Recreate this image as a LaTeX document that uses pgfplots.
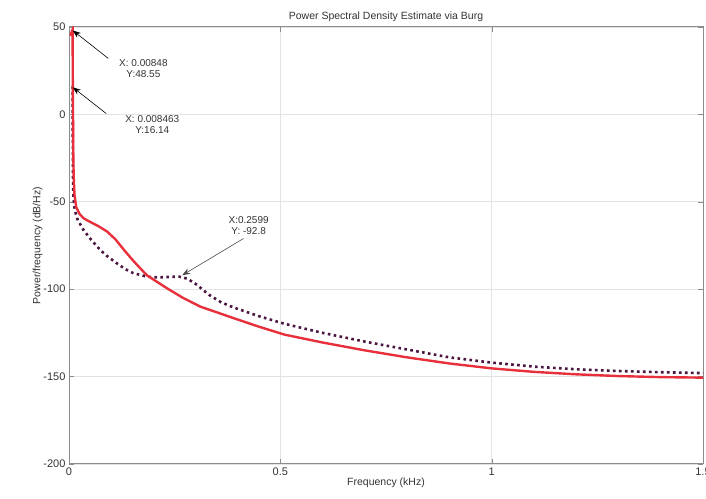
\documentclass[border=0pt]{standalone}
\usepackage{fontspec}
\setmainfont{Liberation Sans}
\usepackage{pgfplots}
\pgfplotsset{compat=1.18}
\usetikzlibrary{arrows.meta,calc}
\definecolor{burgRed}{HTML}{E8303C}
\definecolor{burgPurple}{HTML}{4A1540}
\definecolor{axGrey}{HTML}{8C8C8C}
\definecolor{gridGrey}{HTML}{E3E3E3}
\definecolor{txtGrey}{HTML}{333333}

\begin{document}
\begin{tikzpicture}
  \begin{axis}[
    name=ax,
    width=634pt, height=437pt,
    scale only axis,
    xmin=0, xmax=1.5,
    ymin=-200, ymax=50,
    xtick={0,0.5,1,1.5},
    ytick={-200,-150,-100,-50,0,50},
    grid=major,
    grid style={gridGrey, line width=0.8pt},
    axis line style={axGrey, line width=1pt},
    tick style={axGrey},
    tick align=inside,
    major tick length=5pt,
    every tick label/.append style={font=\fontsize{11}{12}\selectfont, text=txtGrey},
    /pgf/number format/assume math mode=true,
    xlabel={Frequency (kHz)},
    ylabel={Power/frequency (dB/Hz)},
    label style={font=\fontsize{10.5}{12}\selectfont, text=txtGrey},
    title={Power Spectral Density Estimate via Burg},
    title style={font=\fontsize{10.5}{12}\selectfont, text=txtGrey, yshift=-4pt},
    xlabel style={yshift=4pt},
    ylabel style={yshift=-6pt},
    clip=true,
  ]
    % dotted purple estimate
    \addplot[burgPurple, line width=2.6pt, dash pattern=on 2.6pt off 3.4pt] coordinates {
      (0.00846,16.14) (0.0088,-5) (0.0092,-25) (0.0097,-40) (0.011,-49)
      (0.014,-55) (0.02,-60) (0.034,-66) (0.05,-71) (0.074,-77.6)
      (0.09,-81) (0.112,-85) (0.133,-88.5) (0.152,-90.8) (0.184,-92.8)
      (0.21,-93.3) (0.235,-93) (0.2599,-92.8) (0.28,-94) (0.30,-97)
      (0.33,-103) (0.36,-107.5) (0.39,-110.5) (0.45,-115.5) (0.51,-119.8)
      (0.6,-125) (0.7,-130) (0.8,-134.5) (0.9,-139) (1.0,-142)
      (1.1,-144.3) (1.2,-145.8) (1.3,-146.8) (1.4,-147.5) (1.5,-148)
    };
    % solid red estimate
    \addplot[burgRed, line width=2.4pt] coordinates {
      (0.003,45) (0.00848,48.55) (0.0090,20) (0.0095,0) (0.0100,-20)
      (0.0110,-35) (0.013,-46) (0.017,-53) (0.025,-57) (0.035,-59.5)
      (0.05,-61.5) (0.07,-64) (0.09,-67) (0.11,-71.5) (0.13,-77.5)
      (0.153,-84) (0.184,-92) (0.232,-99.5) (0.27,-105) (0.311,-110)
      (0.39,-116.6) (0.45,-121.5) (0.51,-126) (0.6,-130.5) (0.7,-135)
      (0.8,-139) (0.9,-142.5) (1.0,-145.3) (1.1,-147.3) (1.2,-148.7)
      (1.3,-149.7) (1.4,-150.3) (1.5,-150.6)
    };
    % data tips
    \draw[-{Stealth[length=8pt,width=6pt]}, black, line width=0.6pt]
      (axis cs:0.093,32) -- (axis cs:0.009,48);
    \node[align=center, font=\fontsize{10}{11}\selectfont, text=txtGrey, inner sep=0pt]
      at (axis cs:0.176,26) {X: 0.00848\\Y:48.55};
    \draw[-{Stealth[length=8pt,width=6pt]}, black, line width=0.6pt]
      (axis cs:0.088,0.5) -- (axis cs:0.009,15.5);
    \node[align=center, font=\fontsize{10}{11}\selectfont, text=txtGrey, inner sep=0pt]
      at (axis cs:0.197,-6) {X: 0.008463\\Y:16.14};
    \draw[-{Stealth[length=8pt,width=6pt]}, black!70, line width=0.6pt]
      (axis cs:0.413,-71) -- (axis cs:0.268,-92);
    \node[align=center, font=\fontsize{10}{11}\selectfont, text=txtGrey, inner sep=0pt]
      at (axis cs:0.425,-63.5) {X:0.2599\\Y: -92.8};
  \end{axis}
  \pgfresetboundingbox
  \useasboundingbox ($(ax.south west)+(-69pt,-35pt)$) rectangle ($(ax.north east)+(3pt,27pt)$);
\end{tikzpicture}
\end{document}
